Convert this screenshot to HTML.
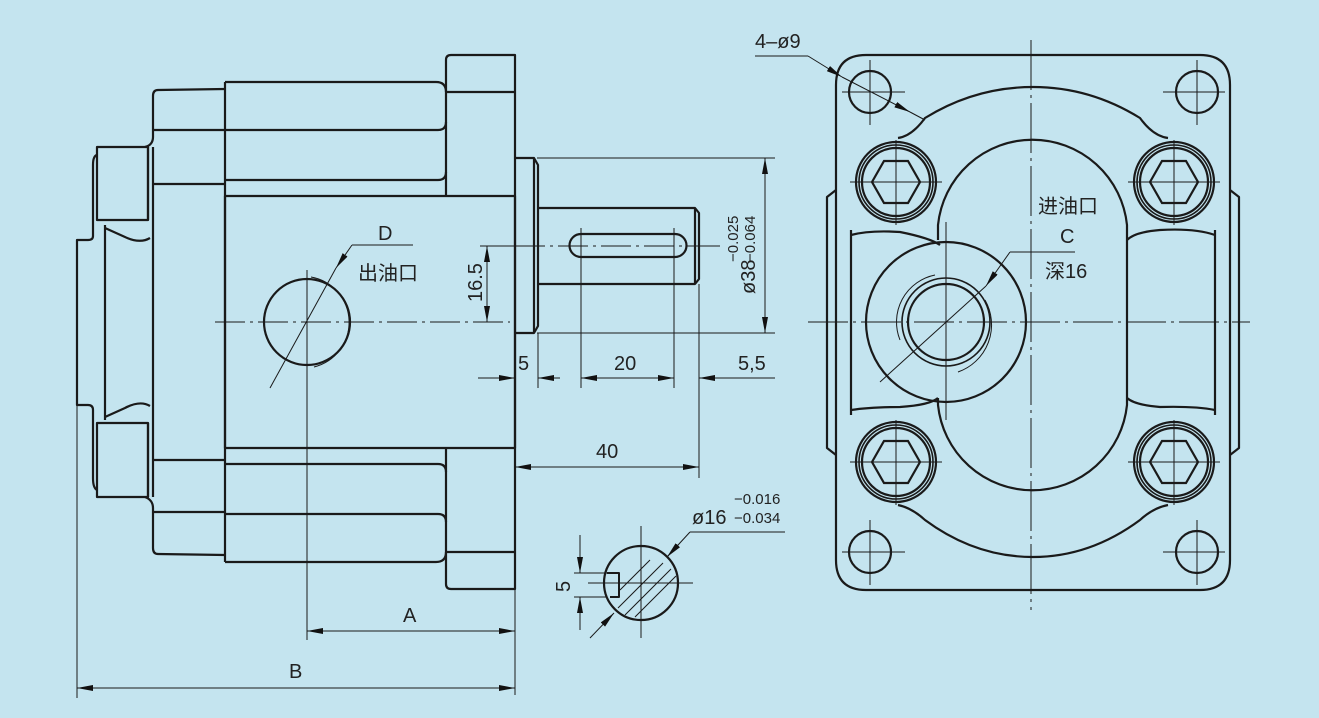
<!DOCTYPE html>
<html><head><meta charset="utf-8"><style>
html,body{margin:0;padding:0;background:#c4e4ef;}
svg{display:block}
text{font-family:"Liberation Sans","Noto Sans CJK SC",sans-serif;fill:#222}
</style></head><body>
<svg width="1319" height="718" viewBox="0 0 1319 718" xmlns="http://www.w3.org/2000/svg">
<defs>
<marker id="a" viewBox="0 0 16 6" refX="16" refY="3" markerWidth="16" markerHeight="6" orient="auto-start-reverse" markerUnits="userSpaceOnUse"><path d="M0,0L16,3L0,6z" fill="#111"/></marker>
<g id="b" fill="none" stroke="#1a1a1a" stroke-width="2.2"><circle cx="0" cy="0" r="40"/><circle cx="0" cy="0" r="37" stroke-width="1.6"/><circle cx="0" cy="0" r="34"/><path d="M-24,0 L-12,-21 L12,-21 L24,0 L12,21 L-12,21 Z"/></g>
</defs>
<rect width="1319" height="718" fill="#c4e4ef"/>
<g fill="none" stroke="#1a1a1a" stroke-width="2.2" stroke-linejoin="round">
<path d="M446,92 L446,60 Q446,55 451,55 L515,55 L515,589 L451,589 Q446,589 446,584 L446,552"/>
<line x1="446" y1="92" x2="515" y2="92"/><line x1="446" y1="552" x2="515" y2="552"/>
<line x1="446" y1="92" x2="446" y2="196"/><line x1="446" y1="448" x2="446" y2="552"/>
<path d="M225,82 L436,82 Q446,82 446,92"/>
<path d="M225,562 L436,562 Q446,562 446,552"/>
<path d="M225,130 L438,130 Q446,130 446,122"/>
<path d="M225,180 L438,180 Q446,180 446,172"/>
<path d="M225,464 L438,464 Q446,464 446,472"/>
<path d="M225,514 L438,514 Q446,514 446,522"/>
<rect x="225" y="196" width="290" height="252"/>
<line x1="225" y1="82" x2="225" y2="562"/>
<path d="M225,89 L158,90 Q153,90 153,96 L153,137 Q153,145 145,147"/>
<line x1="153" y1="130" x2="225" y2="130"/>
<line x1="153" y1="184" x2="225" y2="184"/>
<path d="M225,555 L158,554 Q153,554 153,548 L153,508 Q153,500 145,497"/>
<line x1="153" y1="460" x2="225" y2="460"/>
<line x1="153" y1="512" x2="225" y2="512"/>
<line x1="153" y1="147" x2="153" y2="497"/>
<rect x="97" y="147" width="51" height="73"/><line x1="148" y1="147" x2="148" y2="220"/>
<rect x="97" y="423" width="51" height="74"/><line x1="148" y1="423" x2="148" y2="497"/>
<path d="M97,155 Q93,156 93,165 L93,236 Q93,240 88,240 L77,240 L77,405 L88,405 Q93,405 93,410 L93,478 Q93,488 97,490"/>
<path d="M105,225 L105,420"/>
<path d="M105,228 L125,237 Q140,244 150,238"/>
<path d="M105,417 L125,408 Q140,400 150,406"/>
<circle cx="307" cy="322" r="43"/>
<path d="M515,158 L534,158 L538,165 L538,326 L534,333 L515,333"/>
<line x1="534" y1="158" x2="534" y2="333"/>
<path d="M538,208 L695,208 L699,213 L699,279 L695,284 L538,284"/>
<line x1="695" y1="208" x2="695" y2="284"/>
<path d="M581,234 L675,234 A11.5,11.5 0 0 1 675,257 L581,257 A11.5,11.5 0 0 1 581,234 Z"/>
<circle cx="641" cy="583" r="37"/>
<path d="M607,573 L619,573 L619,597 L610,597" stroke-width="2"/>
<path d="M866,55 L1200,55 Q1230,55 1230,85 L1230,560 Q1230,590 1200,590 L866,590 Q836,590 836,560 L836,85 Q836,55 866,55 Z"/>
<path d="M836,190 L827,197 L827,448 L836,455"/>
<path d="M1230,190 L1239,197 L1239,448 L1230,455"/>
<line x1="851" y1="230" x2="851" y2="415"/><line x1="1215" y1="230" x2="1215" y2="415"/>
<path d="M898,138 Q912,136 925,118 Q975,87 1033,87 Q1090,87 1140,118 Q1153,136 1168,138"/>
<path d="M898,505 Q912,508 925,520 Q975,557 1033,557 Q1090,557 1140,520 Q1153,508 1168,505"/>
<path d="M938,240 L938,225 A95,95 0 0 1 1127,225 L1127,405 A95,95 0 0 1 938,405 L938,398"/>
<path d="M851,235 Q870,230 900,232 Q930,238 940,245"/>
<path d="M1215,235 Q1195,228 1160,230 Q1135,232 1127,240"/>
<path d="M851,410 Q870,407 900,407 Q930,405 938,398"/>
<path d="M1215,410 Q1195,406 1160,407 Q1135,405 1127,398"/>
<circle cx="946" cy="322" r="80"/>
<circle cx="946" cy="322" r="38"/>
<circle cx="946" cy="322" r="44" stroke-width="1.6"/>
<circle cx="870" cy="92" r="21"/><circle cx="1197" cy="92" r="21"/><circle cx="870" cy="552" r="21"/><circle cx="1197" cy="552" r="21"/>
</g>
<use href="#b" x="896" y="182"/><use href="#b" x="1174" y="182"/><use href="#b" x="896" y="462"/><use href="#b" x="1174" y="462"/>
<g fill="none" stroke="#1a1a1a" stroke-width="1">
<path d="M311,277 A46,46 0 0 1 314,367" />
<line x1="215" y1="322" x2="510" y2="322" stroke-dasharray="30,5,3,5"/>
<line x1="307" y1="270" x2="307" y2="640"/>
<line x1="270" y1="388" x2="336" y2="268"/><line x1="336" y1="268" x2="352" y2="245" marker-start="url(#a)"/>
<line x1="352" y1="245" x2="413" y2="245"/>
<line x1="515" y1="246" x2="710" y2="246" stroke-dasharray="30,5,3,5"/>
<line x1="480" y1="246" x2="515" y2="246"/>
<line x1="487" y1="246" x2="487" y2="322" marker-start="url(#a)" marker-end="url(#a)"/>
<line x1="480" y1="322" x2="500" y2="322"/>
<line x1="537" y1="158" x2="775" y2="158"/><line x1="537" y1="333" x2="775" y2="333"/>
<line x1="765" y1="158" x2="765" y2="333" marker-start="url(#a)" marker-end="url(#a)"/>
<line x1="700" y1="246" x2="720" y2="246"/>
<line x1="538" y1="333" x2="538" y2="388"/><line x1="581" y1="228" x2="581" y2="388"/><line x1="674" y1="228" x2="674" y2="388"/><line x1="699" y1="284" x2="699" y2="478"/>
<line x1="478" y1="378" x2="515" y2="378" marker-end="url(#a)"/><line x1="538" y1="378" x2="560" y2="378" marker-start="url(#a)"/>
<line x1="581" y1="378" x2="674" y2="378" marker-start="url(#a)" marker-end="url(#a)"/>
<line x1="699" y1="378" x2="775" y2="378" marker-start="url(#a)"/>
<line x1="515" y1="467" x2="699" y2="467" marker-start="url(#a)" marker-end="url(#a)"/>
<line x1="515" y1="590" x2="515" y2="695"/><line x1="77" y1="405" x2="77" y2="698"/>
<line x1="307" y1="631" x2="515" y2="631" marker-start="url(#a)" marker-end="url(#a)"/>
<line x1="77" y1="688" x2="515" y2="688" marker-start="url(#a)" marker-end="url(#a)"/>
<line x1="641" y1="526" x2="641" y2="638"/><line x1="588" y1="583" x2="693" y2="583"/>
<line x1="574" y1="573" x2="607" y2="573"/><line x1="574" y1="597" x2="607" y2="597"/>
<line x1="580" y1="535" x2="580" y2="573" marker-end="url(#a)"/><line x1="580" y1="630" x2="580" y2="597" marker-end="url(#a)"/>
<path d="M620,590 L650,560 M618,608 L663,563 M625,615 L671,569 M635,617 L676,576"/>
<line x1="590" y1="638" x2="614" y2="613" marker-end="url(#a)"/>
<line x1="667" y1="557" x2="690" y2="532" marker-start="url(#a)"/><line x1="690" y1="532" x2="785" y2="532"/>
<line x1="808" y1="322" x2="1250" y2="322" stroke-dasharray="40,5,3,5"/>
<line x1="1031" y1="40" x2="1031" y2="610" stroke-dasharray="50,5,3,5"/>
<line x1="946" y1="222" x2="946" y2="420"/>
<line x1="842" y1="92" x2="905" y2="92"/><line x1="870" y1="60" x2="870" y2="125"/>
<line x1="1163" y1="92" x2="1225" y2="92"/><line x1="1197" y1="60" x2="1197" y2="125"/>
<line x1="842" y1="552" x2="905" y2="552"/><line x1="870" y1="520" x2="870" y2="585"/>
<line x1="1163" y1="552" x2="1225" y2="552"/><line x1="1197" y1="520" x2="1197" y2="585"/>
<line x1="850" y1="182" x2="942" y2="182"/><line x1="896" y1="140" x2="896" y2="225"/>
<line x1="1128" y1="182" x2="1220" y2="182"/><line x1="1174" y1="140" x2="1174" y2="225"/>
<line x1="850" y1="462" x2="942" y2="462"/><line x1="896" y1="420" x2="896" y2="505"/>
<line x1="1128" y1="462" x2="1220" y2="462"/><line x1="1174" y1="420" x2="1174" y2="505"/>
<path d="M985,300 A50,50 0 0 1 958,372"/><path d="M900,340 A48,48 0 0 1 935,275"/>
<line x1="880" y1="382" x2="986" y2="286"/><line x1="986" y1="286" x2="1010" y2="252" marker-start="url(#a)"/><line x1="1010" y1="252" x2="1075" y2="252"/>
<line x1="755" y1="56" x2="808" y2="56"/><line x1="808" y1="56" x2="842" y2="77" marker-end="url(#a)"/>
<line x1="842" y1="77" x2="910" y2="112" marker-end="url(#a)"/><line x1="910" y1="112" x2="925" y2="120"/>
</g>
<g font-size="20">
<text x="378" y="240">D</text>
<text x="358" y="280">出油口</text>
<text x="482" y="302" transform="rotate(-90 482 302)">16.5</text>
<text x="518" y="370">5</text>
<text x="614" y="370">20</text>
<text x="738" y="370">5,5</text>
<text x="596" y="458">40</text>
<text x="403" y="622">A</text>
<text x="289" y="678">B</text>
<text x="570" y="592" transform="rotate(-90 570 592)">5</text>
<text x="692" y="524">ø16</text>
<text x="1038" y="213">进油口</text>
<text x="1060" y="243">C</text>
<text x="1045" y="278">深16</text>
<text x="755" y="48">4–ø9</text>
</g>
<g font-size="15">
<text x="734" y="504">−0.016</text><text x="734" y="523">−0.034</text>
</g>
<g font-size="20"><text x="755" y="294" transform="rotate(-90 755 294)">ø38</text></g>
<g font-size="15"><text x="738" y="262" transform="rotate(-90 738 262)">−0.025</text><text x="755" y="262" transform="rotate(-90 755 262)">−0.064</text></g>
</svg>
</body></html>
